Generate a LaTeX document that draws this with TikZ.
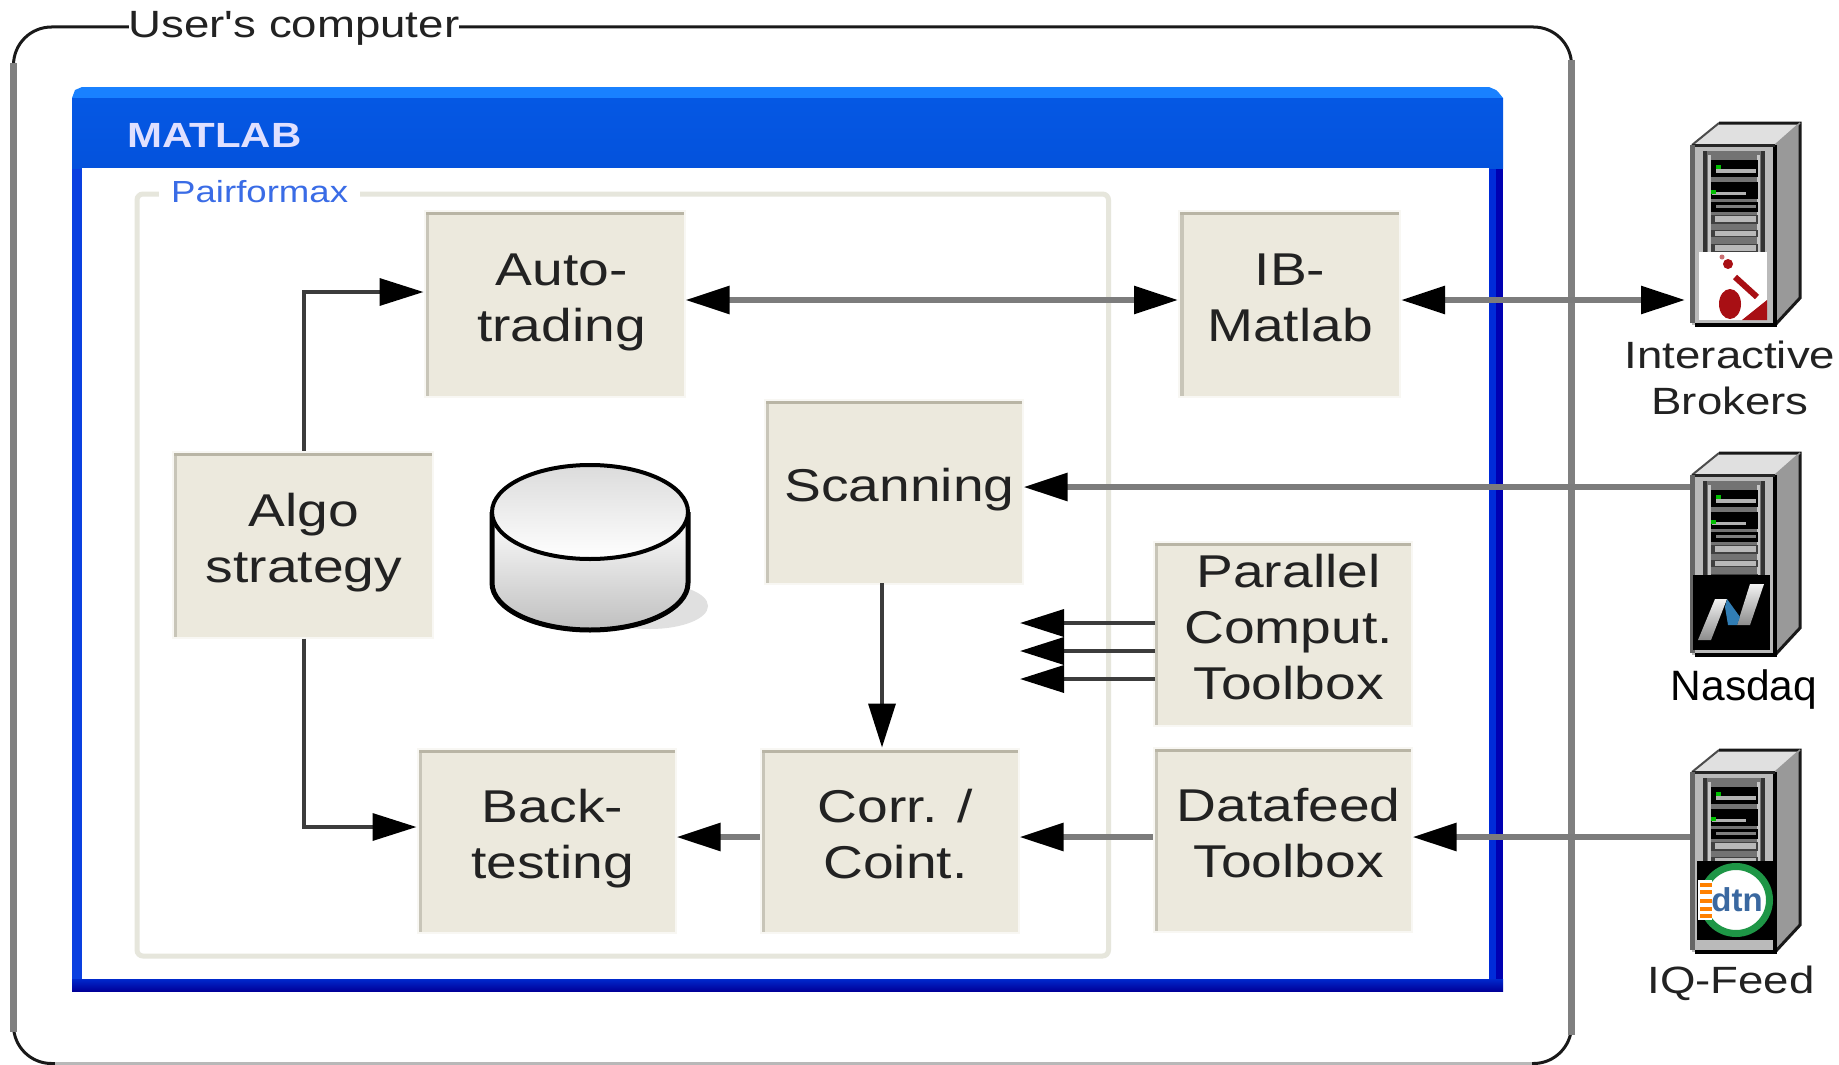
\documentclass[tikz,border=0pt]{standalone}
\usepackage{fontspec}
\setmainfont[FakeStretch=1.2]{Liberation Sans}
\newfontfamily\plainsans{Liberation Sans}
\newfontfamily\rawsans[FakeStretch=1.2]{Liberation Sans}
\usetikzlibrary{arrows.meta}
\definecolor{boxfill}{HTML}{ECE9DD}
\definecolor{boxhalo}{HTML}{F8F7F3}
\definecolor{boxtop}{HTML}{B9B5A5}
\definecolor{boxleft}{HTML}{C8C5B8}
\definecolor{framecol}{HTML}{E6E6DC}
\definecolor{linegray}{HTML}{7C7C7C}
\definecolor{linedark}{HTML}{3C3C3C}
\definecolor{wblue}{HTML}{0A40E0}
\definecolor{inkc}{HTML}{222222}
\definecolor{logored}{HTML}{A80F14}
\definecolor{dtngreen}{HTML}{1E9646}
\newcommand{\bt}[2][0pt]{\begin{tabular}{@{\hspace{#1}}c@{}}#2\\[2pt]\end{tabular}}
\tikzset{
  >={Triangle[length=44pt,width=27pt,black]},
  boxnode/.style={rectangle,fill=boxfill,draw=boxhalo,line width=2pt,inner sep=0pt,
    text=inkc,font=\fontsize{46}{55.7}\selectfont,
    minimum width=260pt,minimum height=186pt,
    path picture={
      \draw[boxleft,line width=9pt] (path picture bounding box.south west)--(path picture bounding box.north west);
      \draw[boxtop,line width=8pt] (path picture bounding box.north west)--(path picture bounding box.north east);
    }},
  grayline/.style={draw=linegray,line width=6pt},
  darkline/.style={draw=linedark,line width=3.5pt},
  serverlabel/.style={text=inkc,inner sep=0pt,font=\fontsize{38}{46}\selectfont},
  server/.pic={
    % top and side faces
    \fill[black!12] (0,0)--(27,-22)--(108,-22)--(83,0)--cycle;
    \fill[black!40] (83,0)--(108,-22)--(108,153)--(83,180)--cycle;
    \draw[black!70,line width=2pt] (0,0)--(27,-22);
    \draw[black!90,line width=3pt] (27,-22)--(108,-22)--(108,153)--(83,180);
    \draw[black!40,line width=1.5pt] (83,0)--(108,-22);
    % front
    \fill[black!27] (0,0) rectangle (83,180);
    \draw[black,line width=4pt] (83,0)--(83,180)--(3,180);
    \draw[black!85,line width=3pt] (0,0)--(83,0);
    \draw[black!60,line width=5pt] (0,0)--(0,178);
    % rack
    \fill[black!55] (11,6) rectangle (73,110);
    \fill[black!80] (11,6) rectangle (15,110);
    \fill[black!80] (69,6) rectangle (73,110);
    \fill[black!22] (16,10) rectangle (19,110);
    \fill[black!22] (65,10) rectangle (68,110);
    \fill[black] (19,15) rectangle (66,32);
    \fill[black] (19,37) rectangle (66,54);
    \fill[black] (19,57) rectangle (66,67);
    \fill[black!75] (19,70) rectangle (66,79);
    \fill[black!75] (19,85) rectangle (66,92);
    \fill[black!75] (19,99) rectangle (66,107);
    \fill[black!30] (24,24) rectangle (64,28);
    \fill[black!30] (20,47) rectangle (54,50);
    \fill[black!50] (24,60) rectangle (64,63);
    \fill[black!28] (23,71) rectangle (64,77);
    \fill[black!28] (23,86) rectangle (64,91);
    \fill[black!28] (23,100) rectangle (64,106);
    \fill[green!75!black] (24,20) rectangle (29,24);
    \fill[green!75!black] (19,45) rectangle (24,49);
  }
}
\begin{document}
\begin{tikzpicture}[x=1pt,y=-1pt]
\useasboundingbox (0,0) rectangle (1839,1065);
% outer frame
\node[rectangle,draw=black!90,line width=3pt,rounded corners=38pt,inner sep=0pt,outer sep=0pt,anchor=north west,
  minimum width=1558pt,minimum height=1036.5pt] (user) at (13.5,27) {};
\draw[black!50,line width=7pt] (13.5,63)--(13.5,1032);
\draw[black!50,line width=7pt] (1571.5,60)--(1571.5,1035);
\fill[white] (55,1061) rectangle (1532,1065);
\draw[black!28,line width=2.5pt] (55,1063.7)--(1532,1063.7);
\node[anchor=base,fill=white,inner xsep=0pt,inner ysep=2pt,text=inkc,font=\rawsans\fontsize{38}{44}\selectfont] (userlab) at (294,38) {User's computer};
% MATLAB window
\node[rectangle,inner sep=0pt,outer sep=0pt,anchor=north west,minimum width=1431pt,minimum height=904pt] (matlab) at (72,87) {};
\fill[wblue] (72,160) rectangle (82,985);
\fill[blue!80!cyan!85!black] (1489,160) rectangle (1496,985);
\fill[blue!70!black] (1496,160) rectangle (1503,985);
\shade[top color=blue!80!cyan!80!black,bottom color=blue!60!black] (72,979) rectangle (1503,991);
\fill[blue!55!cyan!90!white] (82,87)--(1489,87)--(1496,90)--(1499,93)--(1503,98)--(72,98)--(75,90)--cycle;
\shade[top color={rgb,255:red,5;green,88;blue,228},middle color={rgb,255:red,5;green,104;blue,255},bottom color={rgb,255:red,4;green,82;blue,220}]
  (72,98) rectangle (1503,168);
\fill[white] (82,168) rectangle (1489,979);
\node[anchor=base west,inner sep=0pt,text=white!88!blue,font=\bfseries\fontsize{35}{40}\selectfont] (matlablab) at (127,147) {MATLAB};
% Pairformax frame
\node[rectangle,draw=framecol,fill=white,line width=5pt,rounded corners=6pt,inner sep=0pt,outer sep=0pt,anchor=north west,
  minimum width=971.5pt,minimum height=762pt] (pair) at (137,194) {};
\node[anchor=base west,fill=white,inner xsep=12pt,inner ysep=3pt,text={rgb,255:red,58;green,108;blue,230},font=\fontsize{30.5}{34}\selectfont] (pairlab) at (159,202) {Pairformax};
% database
\fill[black!12] (650,606) ellipse [x radius=58,y radius=23];
\shade[top color=white,bottom color=black!25]
  (492,512)--(492,583) .. controls (492,609) and (536,630) .. (590,630) .. controls (644,630) and (688,609) .. (688,583)
  --(688,512) .. controls (688,538) and (644,559) .. (590,559) .. controls (536,559) and (492,538) .. (492,512)--cycle;
\draw[black,line width=5pt]
  (492,512)--(492,583) .. controls (492,609) and (536,630) .. (590,630) .. controls (644,630) and (688,609) .. (688,583)
  --(688,512);
\shade[top color=black!14,bottom color=white,draw=black,line width=4pt] (590,512) ellipse [x radius=98,y radius=47];
% boxes
\node[boxnode] (auto) at (554.5,303.5) {\bt[14pt]{Auto-\\trading}};
\node[boxnode,minimum width=221pt] (ibm) at (1289.5,303.5) {\bt[1pt]{IB-\\Matlab}};
\node[boxnode] (algo) at (302.5,544.5) {\bt[3pt]{Algo\\strategy}};
\node[boxnode,minimum width=258pt,minimum height=184pt] (scan) at (893.5,491.5) {\bt[12pt]{Scanning}};
\node[boxnode,minimum width=258pt,minimum height=184pt] (par) at (1282.5,633.5) {\bt[12pt]{Parallel\\Comput.\\Toolbox}};
\node[boxnode,minimum width=258pt,minimum height=184pt] (data) at (1282.5,839.5) {\bt[12pt]{Datafeed\\Toolbox}};
\node[boxnode,minimum width=258pt,minimum height=184pt] (back) at (546.5,840.5) {\bt[12pt]{Back-\\testing}};
\node[boxnode,minimum width=258pt,minimum height=184pt] (corr) at (889.5,840.5) {\bt[12pt]{Corr. /\\Coint.}};
% servers
\pic (ibsrv) at (1692,145) {server};
\begin{scope}[shift={(1692,145)}]
  \fill[white] (7,107) rectangle (75,175);
  \fill[logored] (36,119) circle (5);
  \fill[logored!60] (30,112) circle (2.5);
  \draw[logored,line width=6pt] (43,132)--(65,152);
  \fill[logored] (38,159) ellipse [x radius=11,y radius=15];
  \fill[logored] (75,155)--(75,175)--(50,175)--cycle;
\end{scope}
\pic (nqsrv) at (1692,475) {server};
\begin{scope}[shift={(1692,475)}]
  \fill[black] (1,100) rectangle (78,175);
  \shade[top color=black!5,bottom color=black!45] (23,124)--(35,124)--(19,165)--(6,165)--cycle;
  \shade[top color=black!5,bottom color=black!45] (58,109)--(72,109)--(58,150)--(45,150)--cycle;
  \fill[cyan!70!blue!80!black] (33,132)--(35,124)--(48,142)--(45,150)--(36,150)--cycle;
\end{scope}
\pic (dtnsrv) at (1692,772) {server};
\begin{scope}[shift={(1692,772)}]
  \fill[black] (5,89) rectangle (84,168);
  \fill[white] (44,128) circle (33);
  \draw[dtngreen,line width=7pt] (44,128) circle (33.5);
  \fill[white] (6,108) rectangle (20,148);
  \foreach \yy in {113,120,129,137,144} {\draw[orange,line width=3.5pt] (8,\yy)--(20,\yy);}
  \node[inner sep=0pt,text=cyan!50!blue!75!black,font=\bfseries\plainsans\fontsize{33}{36}\selectfont] (dtnlogo) at (45,128) {dtn};
\end{scope}
\coordinate (ibport) at (1690,300);
\coordinate (nqport) at (1690,487);
\coordinate (dtnport) at (1690,837);
% server labels
\node[serverlabel] (iblab) at (1730,383) {\bt{Interactive\\Brokers}};
\node[anchor=base,inner sep=0pt,text=black,font=\plainsans\fontsize{42.5}{46}\selectfont] (nqlab) at (1744,700) {Nasdaq};
\node[serverlabel,anchor=base] (dtnlab) at (1731,993) {IQ-Feed};
% connectors
\draw[grayline,<->] (auto.east |- ibport) -- (ibm.west |- ibport);
\draw[grayline,<->] (ibm.east |- ibport) -- ([xshift=-5pt]ibport);
\draw[grayline,->] (nqport) -- (scan.east |- nqport);
\draw[grayline,->] (dtnport) -- (data.east |- dtnport);
\draw[grayline,->] (data.west |- dtnport) -- (corr.east |- dtnport);
\draw[grayline,->] (corr.west |- dtnport) -- (back.east |- dtnport);
\coordinate (p1) at (1155,623);
\coordinate (p2) at (1155,651);
\coordinate (p3) at (1155,679);
\coordinate (ptip) at (1020,651);
\draw[darkline,->] (p1) -- (ptip |- p1);
\draw[darkline,->] (p2) -- (ptip |- p2);
\draw[darkline,->] (p3) -- (ptip |- p3);
\coordinate (sx) at (882,583);
\draw[darkline,->] (sx) -- (sx |- corr.north);
\coordinate (a1) at (304,292);
\coordinate (a2) at (304,827);
\draw[darkline,->] (a1 |- algo.north) |- (auto.west |- a1);
\draw[darkline,->] (a2 |- algo.south) |- (back.west |- a2);
\end{tikzpicture}
\end{document}
